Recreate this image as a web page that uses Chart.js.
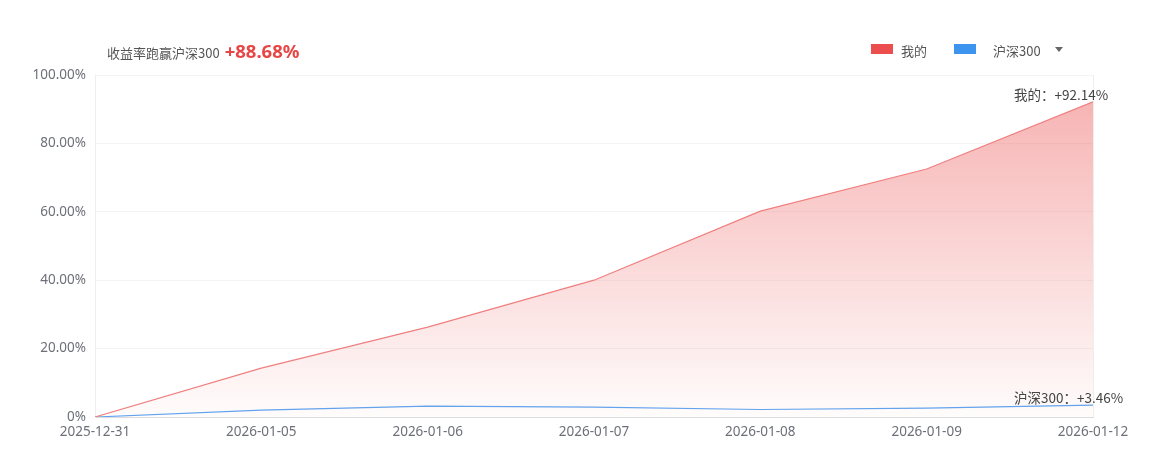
<!DOCTYPE html>
<html>
<head>
<meta charset="utf-8">
<script src="https://cdn.jsdelivr.net/npm/chart.js@4/dist/chart.umd.min.js"></script>
<style>
    body { margin: 0; background: #fff; font-family: "Noto Sans CJK SC", "Noto Sans", sans-serif; }
    #wrap { position: relative; width: 1149px; height: 456px; }
    #chart { position: absolute; left: 0; top: 0; }
    .title { position: absolute; left: 107px; top: 38px; color: #555; font-size: 13px; white-space: nowrap; }
    .title b { color: #e84545; font-size: 18.5px; margin-left: 5px; font-family: "Noto Sans", sans-serif; }
    .legend { position: absolute; top: 41px; font-size: 13px; color: #555; white-space: nowrap; }
    .swatch { position: absolute; top: 3px; width: 22px; height: 10px; }
    .caret { position: absolute; left: 1055px; top: 47px; width: 0; height: 0;
             border-left: 4px solid transparent; border-right: 4px solid transparent; border-top: 5px solid #666; }
</style>
</head>
<body>
<div id="wrap">
    <canvas id="chart" width="1149" height="456"></canvas>
    <div class="title">收益率跑赢沪深300<b>+88.68%</b></div>
    <div class="legend" style="left:871px"><span class="swatch" style="left:0;background:#ec4e4e"></span><span style="margin-left:30px">我的</span></div>
    <div class="legend" style="left:954px"><span class="swatch" style="left:0;background:#3d94ee"></span><span style="margin-left:39px">沪深300</span></div>
    <div class="caret"></div>
</div>
<script>
const dates = ['2025-12-31', '2026-01-05', '2026-01-06', '2026-01-07', '2026-01-08', '2026-01-09', '2026-01-12'];
const mine = [0, 14.3, 26.3, 40.0, 60.2, 72.5, 92.14];
const hs300 = [0, 2.0, 3.2, 2.9, 2.2, 2.6, 3.46];
const yTicks = [0, 20, 40, 60, 80, 100];

const ctx = document.getElementById('chart').getContext('2d');

// end-of-line labels + right frame of plot area
const endLabels = {
    id: 'endLabels',
    afterDatasetsDraw(chart) {
        const c = chart.ctx;
        const area = chart.chartArea;
        c.save();
        c.strokeStyle = '#eeeeee';
        c.lineWidth = 1;
        c.beginPath();
        c.moveTo(Math.round(area.right) + 0.5, area.top);
        c.lineTo(Math.round(area.right) + 0.5, area.bottom);
        c.stroke();

        c.font = '13.5px "Noto Sans CJK SC", sans-serif';
        c.fillStyle = '#444';
        c.textBaseline = 'middle';
        c.textAlign = 'left';
        const names = ['我的', '沪深300'];
        chart.data.datasets.forEach((ds, i) => {
            const meta = chart.getDatasetMeta(i);
            const pt = meta.data[meta.data.length - 1];
            const v = ds.data[ds.data.length - 1];
            c.fillText(names[i] + '：+' + v.toFixed(2) + '%', pt.x - 79, pt.y - 7);
        });
        c.restore();
    }
};

new Chart(ctx, {
    type: 'line',
    data: {
        labels: dates,
        datasets: [{
            label: '我的',
            data: mine,
            borderColor: '#f08080',
            borderWidth: 1.2,
            pointRadius: 0,
            tension: 0,
            fill: 'origin',
            backgroundColor: function(context) {
                const area = context.chart.chartArea;
                if (!area) return 'rgba(239,100,100,0.4)';
                const g = context.chart.ctx.createLinearGradient(0, area.top, 0, area.bottom);
                g.addColorStop(0, 'rgba(238,100,100,0.52)');
                g.addColorStop(1, 'rgba(238,100,100,0.02)');
                return g;
            }
        }, {
            label: '沪深300',
            data: hs300,
            borderColor: '#5fa5f2',
            borderWidth: 1.2,
            pointRadius: 0,
            tension: 0,
            fill: false
        }]
    },
    options: {
        responsive: false,
        animation: false,
        layout: { padding: { top: 75, right: 56, left: 0, bottom: 0 } },
        scales: {
            x: {
                offset: false,
                grid: { display: false, drawTicks: false },
                border: { display: true, color: '#dcdcdc' },
                ticks: {
                    color: '#6e7079',
                    font: { size: 13.5, family: '"Noto Sans", sans-serif' },
                    padding: 7,
                    maxRotation: 0,
                    autoSkip: false
                },
                afterFit: function(scale) { scale.height = 39; }
            },
            y: {
                min: 0,
                max: 100,
                afterBuildTicks: function(scale) { scale.ticks = yTicks.map(v => ({ value: v })); },
                grid: { color: '#f4f4f4', drawTicks: false },
                border: { display: true, color: '#eeeeee' },
                ticks: {
                    color: '#6e7079',
                    font: { size: 13.5, family: '"Noto Sans", sans-serif' },
                    padding: 9,
                    callback: v => v === 0 ? '0%' : v.toFixed(2) + '%'
                },
                afterFit: function(scale) { scale.width = 95; }
            }
        },
        plugins: {
            legend: { display: false },
            tooltip: { enabled: false }
        }
    },
    plugins: [endLabels]
});
</script>
</body>
</html>
